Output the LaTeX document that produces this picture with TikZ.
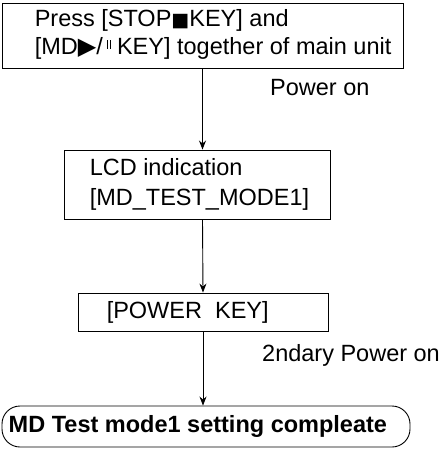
\documentclass[tikz,border=0pt]{standalone}
\usepackage{fontspec}
\setmainfont{Liberation Sans}
\newfontfamily\symfont{DejaVu Sans}
\usetikzlibrary{arrows.meta}
\newcommand{\pausebars}{\raisebox{6pt}{\rule{0.9pt}{9pt}\hspace{2pt}\rule{0.9pt}{9pt}}}
\begin{document}
\begin{tikzpicture}[x=1pt,y=1pt,
  box/.style={draw, line width=0.9pt, inner sep=0pt},
  txt/.style={anchor=west, align=left, inner sep=0pt, font=\fontsize{23.5}{28}\selectfont},
  lbl/.style={anchor=west, inner sep=0pt, font=\fontsize{23.5}{28}\selectfont},
  arr/.style={-{Stealth[length=9pt,width=7pt]}, line width=0.9pt}]
\useasboundingbox (0,0) rectangle (442,-450);
% box 1
\node[box, minimum width=401pt, minimum height=65pt] (b1) at (202.5,-35.5) {};
\node[txt] (t1) at ([xshift=33pt,yshift=1pt]b1.west) {Press [STOP{\symfont\fontsize{19}{19}\selectfont■}KEY] and\\\relax [MD{\symfont\fontsize{24}{24}\selectfont▶}/\,\pausebars\ KEY] together of main unit};
% box 2
\node[box, minimum width=266pt, minimum height=69pt] (b2) at (197,-184.5) {};
\node[txt, font=\fontsize{23.5}{30}\selectfont] (t2) at ([xshift=26pt]b2.west) {LCD indication\\\relax [MD\_TEST\_MODE1]};
% box 3
\node[box, minimum width=250pt, minimum height=38pt] (b3) at (203,-312) {};
\node[txt] (t3) at ([xshift=29pt]b3.west) {[POWER\ \ KEY]};
% box 4
\node[box, rounded corners=18pt, minimum width=408pt, minimum height=41pt] (b4) at (206,-426.5) {};
\node[txt, font=\bfseries\fontsize{23.5}{28}\selectfont] (t4) at ([xshift=7pt]b4.west) {MD Test mode1 setting compleate};
% labels
\node[lbl] (l1) at (270,-88) {Power on};
\node[lbl] (l2) at (262,-355) {2ndary Power on};
% arrows
\draw[arr] (b1.south) -- (b1.south |- b2.north);
\draw[arr] (b1.south |- b2.south) -- (b3.north);
\draw[arr] (b3.south) -- (b3.south |- b4.north);
\end{tikzpicture}
\end{document}
